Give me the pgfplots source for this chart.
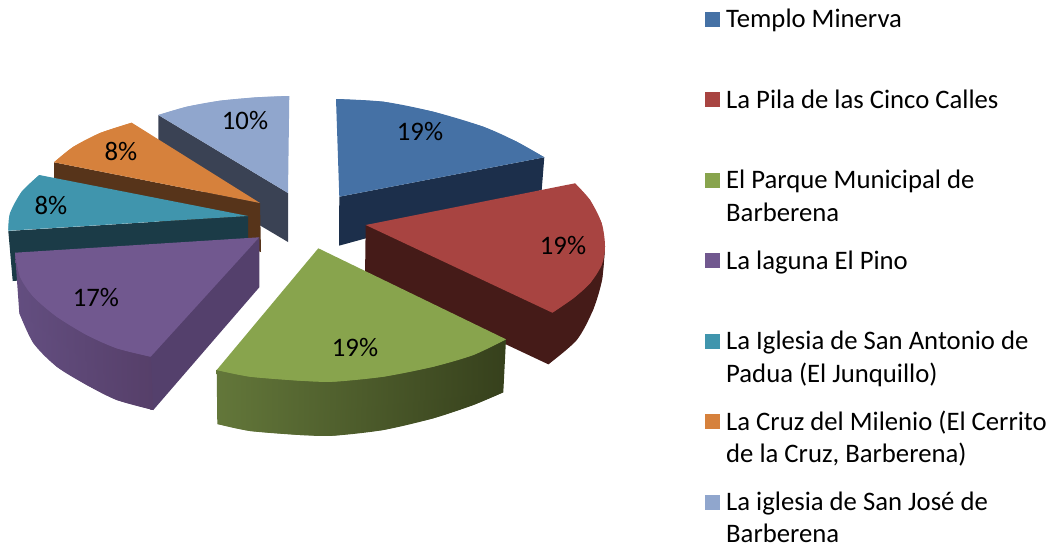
\documentclass[border=0pt]{standalone}
\usepackage{pgfplots}
\usepackage{fontspec}
\setmainfont{Carlito}
\pgfplotsset{compat=1.18}
\definecolor{cBlue}{HTML}{4571A5}\definecolor{cBlueS}{HTML}{1C2F4B}
\definecolor{cRed}{HTML}{A84441}\definecolor{cRedS}{HTML}{451B18}
\definecolor{cGreen}{HTML}{88A44D}\definecolor{cGreenL}{HTML}{63773A}\definecolor{cGreenM}{HTML}{4A5A2B}\definecolor{cGreenD}{HTML}{36401C}
\definecolor{cPurple}{HTML}{71588F}\definecolor{cPurpleS}{HTML}{54406C}\definecolor{cPurpleL}{HTML}{634E80}\definecolor{cPurpleD}{HTML}{563F69}
\definecolor{cTeal}{HTML}{4095AD}\definecolor{cTealS}{HTML}{1B3B47}
\definecolor{cOrange}{HTML}{D6813C}\definecolor{cOrangeS}{HTML}{57341A}
\definecolor{cLight}{HTML}{90A6CD}\definecolor{cLightS}{HTML}{3A4254}
\newcommand{\leg}[2]{\node[anchor=base west,inner sep=0pt] at (axis cs:726,#1) {\fontsize{26.7}{30}\selectfont #2};}
\newcommand{\pct}[2]{\node[inner sep=0pt] at (axis cs:#1) {\fontsize{26.7}{30}\selectfont #2};}
\newcommand{\sq}[2]{\addplot[only marks,mark=square*,mark size=7.3pt,color=#1,mark options={line width=0pt,draw=#1,fill=#1}] coordinates {(712.5,#2)};}
\begin{document}
\begin{tikzpicture}
\begin{axis}[scale only axis,width=1055pt,height=544pt,xmin=0,xmax=1055,ymin=0,ymax=544,y dir=reverse,hide axis]
\path (axis cs:0,0) rectangle (axis cs:1055,544);
% light blue
\addplot[draw=none,fill=cLightS] coordinates {(158.3,115)(288,193)(288,242)(158.3,165)};
\addplot[draw=none,fill=cLight] coordinates {(288,193)(158.3,115)(186.7,106.7)(220,100.7)(256.7,97.3)(289.3,96)};
\addplot[draw=none,fill=cLight,smooth] coordinates {(158.3,115)(186.7,106.7)(220,100.7)(256.7,97.3)(289.3,96)};
% orange
\addplot[draw=none,fill=cOrangeS] coordinates {(54,162.3)(260,203)(261,252)(54,190)};
\addplot[draw=none,fill=cOrange] coordinates {(260,203)(54,162.3)(73,147)(100,133)(131.7,122.7)};
\addplot[draw=none,fill=cOrange,smooth] coordinates {(54,162.3)(73,147)(100,133)(131.7,122.7)};
% teal
\addplot[draw=none,fill=cTealS] coordinates {(8.3,231)(248,216)(248,265)(12.7,281)};
\addplot[draw=none,fill=cTeal] coordinates {(248,216)(8.3,230.7)(10,213.3)(21.7,191.7)(39.3,175)};
\addplot[draw=none,fill=cTeal,smooth] coordinates {(8.3,230.7)(10,213.3)(21.7,191.7)(39.3,175)};
% purple
\addplot[draw=none,fill=cPurpleS] coordinates {(147,358)(259.3,237.3)(259.3,287.3)(153.3,410)(150,409.5)};
\addplot[draw=none,left color=cPurpleL,right color=cPurpleD] coordinates {(15,252.7)(150.7,356.7)(153.3,410)(116.7,400)(86.7,385)(56.7,366.7)(33.3,343)(19.3,313)};
\addplot[draw=none,left color=cPurpleL,right color=cPurpleD,smooth] coordinates {(19.3,313)(33.3,343)(56.7,366.7)(86.7,385)(116.7,400)(153.3,410)};
\addplot[draw=none,fill=cPurple] coordinates {(259.3,237.3)(15,252.7)(20,276.7)(33.3,296.7)(56.7,316.7)(86.7,335)(116.7,348.3)(150.7,356.7)};
\addplot[draw=none,fill=cPurple,smooth] coordinates {(15,252.7)(20,276.7)(33.3,296.7)(56.7,316.7)(86.7,335)(116.7,348.3)(150.7,356.7)};
% blue
\addplot[draw=none,fill=cBlueS] coordinates {(339.3,196.7)(544.3,157.3)(541.7,190)(339,245.7)};
\addplot[draw=none,fill=cBlue] coordinates {(339.3,196.7)(336,99)(383.3,101.7)(433.3,111.7)(483.3,126.7)(516.7,141.7)(544.3,157.3)};
\addplot[draw=none,fill=cBlue,smooth] coordinates {(336,99)(383.3,101.7)(433.3,111.7)(483.3,126.7)(516.7,141.7)(544.3,157.3)};
% red
\addplot[draw=none,fill=cRedS] coordinates {(365.7,225)(605,246.7)(602,280)(593,310)(576.7,340)(548.3,364.3)(365,278)};
\addplot[draw=none,fill=cRedS,smooth] coordinates {(605,246.7)(602,280)(593,310)(576.7,340)(548.3,364.3)};
\addplot[draw=none,fill=cRed] coordinates {(365.7,225)(575,183.3)(590,200)(601.7,223.3)(605,246.7)(601.7,265)(590,283.3)(573.3,298.3)(552.3,312.7)};
\addplot[draw=none,fill=cRed,smooth] coordinates {(575,183.3)(590,200)(601.7,223.3)(605,246.7)(601.7,265)(590,283.3)(573.3,298.3)(552.3,312.7)};
% green
\addplot[draw=none,left color=cGreenL,middle color=cGreenM,right color=cGreenD] coordinates {(216.7,370)(506,339.3)(503.3,392.3)(473.3,405)(433.3,418.3)(383.3,430)(333.3,435.7)(300,435)(250,431)(217.3,424)};
\addplot[draw=none,left color=cGreenL,middle color=cGreenM,right color=cGreenD,smooth] coordinates {(217.3,424)(250,431)(300,435)(333.3,435.7)(383.3,430)(433.3,418.3)(473.3,405)(503.3,392.3)};
\addplot[draw=none,fill=cGreen] coordinates {(318.3,248.3)(216.7,370)(250,376.7)(300,380.7)(333.3,381.7)(383.3,376.7)(433.3,366.7)(473.3,355)(506,339.3)};
\addplot[draw=none,fill=cGreen,smooth] coordinates {(216.7,370)(250,376.7)(300,380.7)(333.3,381.7)(383.3,376.7)(433.3,366.7)(473.3,355)(506,339.3)};
% legend squares
\sq{cBlue}{19.5}
\sq{cRed}{99.5}
\sq{cGreen}{180.3}
\sq{cPurple}{260.3}
\sq{cTeal}{341.3}
\sq{cOrange}{421.3}
\sq{cLight}{502.3}
% labels
\pct{420,132}{19\%}
\pct{563,245}{19\%}
\pct{355,347}{19\%}
\pct{96,297}{17\%}
\pct{51,205}{8\%}
\pct{121,151}{8\%}
\pct{245,121}{10\%}
\leg{27.5}{Templo Minerva}
\leg{108}{La Pila de las Cinco Calles}
\leg{188.5}{El Parque Municipal de}
\leg{221.5}{Barberena}
\leg{269}{La laguna El Pino}
\leg{349.5}{La Iglesia de San Antonio de}
\leg{382}{Padua (El Junquillo)}
\leg{430}{La Cruz del Milenio (El Cerrito}
\leg{462.5}{de la Cruz, Barberena)}
\leg{510}{La iglesia de San José de}
\leg{542}{Barberena}
\end{axis}
\end{tikzpicture}
\end{document}
